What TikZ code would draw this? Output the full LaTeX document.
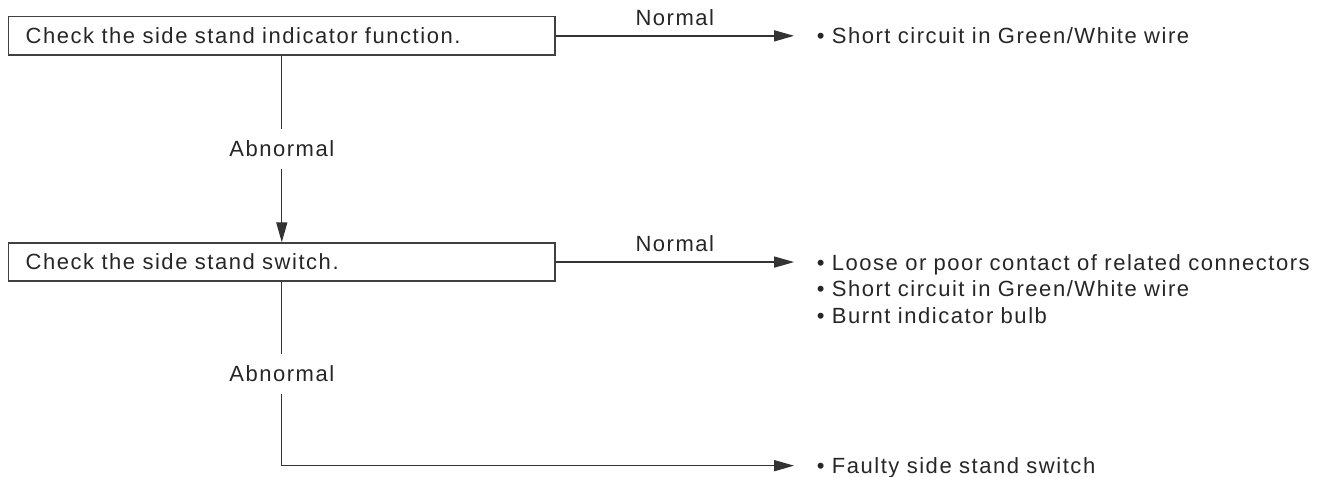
\documentclass[tikz,border=0pt]{standalone}
\usepackage{fontspec}
\setmainfont{Liberation Sans}[LetterSpace=7]
\usetikzlibrary{arrows.meta,positioning,calc}

\begin{document}
\begin{tikzpicture}[>={Triangle[length=10pt,width=5.5pt]}, line width=0.7pt, draw=black!80,
  every node/.style={font=\fontsize{11pt}{13.25pt}\selectfont, text=black!85},
  chkbox/.style={draw=black!75, text width=9.0cm, inner xsep=8.5pt, minimum height=0.67cm, align=left},
  resnode/.style={text width=8.8cm, inner xsep=11pt, inner ysep=0pt, align=left},
  lbl/.style={fill=white, inner xsep=1pt, inner ysep=6pt}]
  \useasboundingbox (0,0) rectangle (23.21,-8.38);
  \node[chkbox, anchor=west] (chk1) at (0.14,-0.63) {Check the side stand indicator function.};
  \node[chkbox, below=3.28cm of chk1] (chk2) {Check the side stand switch.};
  \coordinate (crn) at ($(chk2.south)+(0,-3.23)$);
  \node[resnode, right=4.19cm of chk1.east, anchor=base west, yshift=-4pt] (res1) {• Short circuit in Green/White wire};
  \node[resnode, right=4.19cm of chk2.east, anchor=base west, yshift=-4pt] (res2) {• Loose or poor contact of related connectors\\
    • Short circuit in Green/White wire\\
    • Burnt indicator bulb};
  \node[resnode, anchor=base west, yshift=-4pt] (res3) at (crn -| res2.west) {• Faulty side stand switch};
  % connectors
  \draw[->] (chk1.east) -- node[midway, above=1.5pt] (nrm1) {Normal} (chk1.east -| res1.west);
  \draw[->] (chk1) -- node[lbl] (abn1) {Abnormal} (chk2);
  \draw[->] (chk2.east) -- node[midway, above=1.5pt] (nrm2) {Normal} (chk2.east -| res2.west);
  \draw[->] (chk2) |- node[lbl, pos=0.25] (abn2) {Abnormal} (crn -| res3.west);
\end{tikzpicture}
\end{document}
